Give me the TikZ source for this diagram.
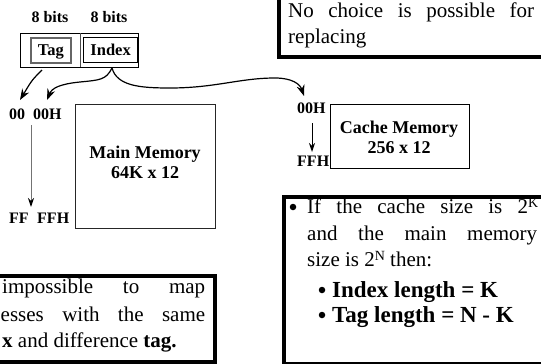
\documentclass[tikz,border=0pt]{standalone}
\usepackage{fontspec}
\setmainfont{Liberation Serif}
\usetikzlibrary{arrows.meta}
\newcommand{\supK}[1]{\raisebox{6pt}{\fontsize{14}{14}\selectfont #1}}
\begin{document}
\begin{tikzpicture}[x=1pt,y=-1pt,
  bigtxt/.style={inner sep=0pt, anchor=base west, font=\fontsize{21}{25}\selectfont},
  boldtxt/.style={inner sep=0pt, anchor=base west, font=\bfseries\fontsize{23}{26}\selectfont},
  bitlbl/.style={inner sep=0pt, anchor=base, font=\bfseries\fontsize{16}{18}\selectfont},
  addrlbl/.style={inner sep=0pt, anchor=base west, font=\bfseries\fontsize{16}{18}\selectfont},
  memtxt/.style={inner sep=0pt, anchor=base, font=\bfseries\fontsize{18}{20}\selectfont},
  fieldbox/.style={draw, line width=1.3pt, inner sep=0pt, anchor=north west, text depth=0pt,
     font=\bfseries\fontsize{16.5}{18}\selectfont},
  membox/.style={draw=black!85, line width=1.3pt, inner sep=0pt, anchor=north west},
  notebox/.style={draw, line width=3.5pt, inner sep=0pt, anchor=north west},
  dot/.style={circle, fill, inner sep=0pt, minimum size=6.5pt},
  arr/.style={line width=1.2pt, -{Stealth[length=11pt,width=8pt]}},
  smallarr/.style={line width=1pt, -{Stealth[length=9pt,width=6pt,color=black]}}
]
\clip (0,0) rectangle (541,364);

% address fields
\node[bitlbl] (bits1) at (50,22) {8 bits};
\node[bitlbl] (bits2) at (109,22) {8 bits};
\node[draw, line width=1.2pt, inner sep=0pt, anchor=north west, minimum width=118pt, minimum height=34pt] (addr) at (20,33) {};
\coordinate (divtop) at (80,33);
\coordinate (divbot) at (80,67);
\draw[line width=1pt, black!70] (divtop) -- (divbot);
\node[fieldbox, draw=black!60, line width=1.6pt, minimum width=40pt, minimum height=25pt] (tag) at (30,37) {Tag};
\node[fieldbox, minimum width=54pt, minimum height=25pt] (index) at (83,37) {Index};

% main memory
\node[membox, minimum width=140pt, minimum height=124pt] (mm) at (75,104) {};
\node[memtxt] (mm1) at (145,158) {Main Memory};
\node[memtxt] (mm2) at (145,178) {64K x 12};
\node[addrlbl] (t00) at (9,119) {00};
\node[addrlbl] (m00) at (33,119) {00H};
\node[addrlbl] (tFF) at (9,223) {FF};
\node[addrlbl] (mFF) at (37,223) {FFH};
\coordinate (ma1) at (31,125);
\coordinate (ma2) at (31,207);
\draw[smallarr, draw=black!55] (ma1) -- (ma2);

% cache memory
\node[membox, draw=black, minimum width=139pt, minimum height=64pt] (cm) at (330,104) {};
\node[memtxt] (cm1) at (399,133) {Cache Memory};
\node[memtxt] (cm2) at (399,153) {256 x 12};
\node[addrlbl] (c00) at (297,113) {00H};
\node[addrlbl] (cFF) at (297,166) {FFH};
\coordinate (ca1) at (312,123);
\coordinate (ca2) at (312,152);
\draw[smallarr] (ca1) -- (ca2);

% mapping arrows
\coordinate (tagS) at (42,70);
\coordinate (tagT) at (20,100);
\draw[arr] (tagS) .. controls (32,80) .. (tagT);
\coordinate (peak) at (112,68);
\coordinate (idxL) at (47,100);
\coordinate (idxR) at (304,96);
\draw[arr] (peak) .. controls (106,80) and (100,80) .. (80,82) .. controls (60,84) and (52,88) .. (idxL);
\draw[arr] (peak) .. controls (117,86) and (140,88) .. (170,88) .. controls (215,88) and (240,78) .. (275,78) .. controls (292,78) and (300,84) .. (idxR);

% note boxes
\node[notebox, minimum width=320pt, minimum height=65pt] (nb1) at (277,-10) {};
\node[bigtxt] (nb1a) at (288,17) {\makebox[246pt][s]{No choice is possible for}};
\node[bigtxt] (nb1b) at (288,43) {replacing};

\node[notebox, minimum width=253pt, minimum height=86pt] (nb2) at (-40,274) {};
\node[bigtxt] (nb2a) at (2,293) {\makebox[203pt][s]{impossible to map}};
\node[bigtxt] (nb2b) at (0.5,321) {\makebox[204.5pt][s]{esses with the same}};
\node[bigtxt] (nb2c) at (2,347) {\textbf{x} and difference \textbf{tag.}};

\node[notebox, minimum width=320pt, minimum height=167pt] (nb3) at (282,195) {};
\node[dot] (d1) at (293,207) {};
\node[bigtxt] (nb3a) at (307,213) {\makebox[231pt][s]{If the cache size is 2\supK{K}}};
\node[bigtxt] (nb3b) at (307,240) {\makebox[230pt][s]{and the main memory}};
\node[bigtxt] (nb3c) at (307,266) {size is 2\supK{N} then:};
\node[dot] (d2) at (322,290) {};
\node[boldtxt] (nb3d) at (332,297) {Index length = K};
\node[dot] (d3) at (322,315) {};
\node[boldtxt] (nb3e) at (332,322) {Tag length = N - K};
\end{tikzpicture}
\end{document}
